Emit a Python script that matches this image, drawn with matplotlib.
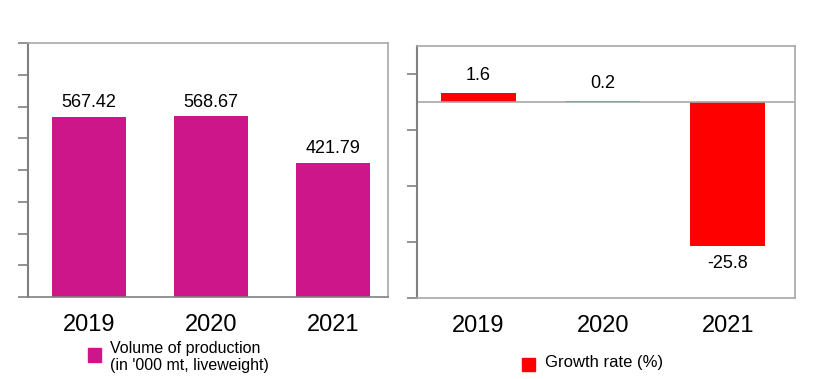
import numpy as np
import matplotlib
matplotlib.use('Agg')
import matplotlib.pyplot as plt
from matplotlib.patches import Rectangle

plt.rcParams['font.family'] = ['Liberation Sans', 'DejaVu Sans']

years = ['2019', '2020', '2021']
volume = [567.42, 568.67, 421.79]
growth = [1.6, 0.2, -25.8]
volume_label = "Volume of production\n(in '000 mt, liveweight)"
growth_label = 'Growth rate (%)'

MAGENTA = '#CC1689'
RED = '#FF0000'
FRAME = '#A8A8A8'
AXIS = '#808080'


def style_frame(ax):
    for side in ['top', 'right', 'bottom']:
        ax.spines[side].set_color(FRAME)
        ax.spines[side].set_linewidth(1.2)
    ax.spines['left'].set_color(AXIS)
    ax.spines['left'].set_linewidth(1.5)
    ax.tick_params(axis='y', direction='out', length=7, width=1.2,
                   color=AXIS, labelleft=False)
    ax.tick_params(axis='x', length=0, labelsize=17, pad=12)


fig = plt.figure(figsize=(8.2, 3.79), dpi=100)
W, H = 820, 379

# left panel: volume
ax1 = fig.add_axes([28 / W, 1 - 297 / H, 360 / W, 254 / H])
x = np.arange(len(years))
ax1.bar(x, volume, 0.61, color=MAGENTA)
ax1.set_xlim(-0.5, 2.45)
ax1.set_ylim(0, 800)
ax1.set_yticks(np.arange(0, 801, 100))
ax1.set_xticks(x)
ax1.set_xticklabels(years)
style_frame(ax1)
ax1.spines['bottom'].set_color(AXIS)
for xi, v in zip(x, volume):
    ax1.text(xi, v + 18, f'{v:.2f}', ha='center', va='bottom', fontsize=13)

# right panel: growth rate
ax2 = fig.add_axes([417 / W, 1 - 298 / H, 378 / W, 252 / H])
ax2.bar(x, growth, 0.6, color=RED)
ax2.axhline(0, color=FRAME, lw=1.2)
ax2.set_xlim(-0.49, 2.54)
ax2.set_ylim(-35, 10)
ax2.set_yticks(np.arange(-35, 6, 10))
ax2.set_xticks(x)
ax2.set_xticklabels(years)
style_frame(ax2)
for xi, v in zip(x, growth):
    if v >= 0:
        ax2.text(xi, v + 1.6, f'{v:.1f}', ha='center', va='bottom', fontsize=13)
    else:
        ax2.text(xi, v - 1.6, f'{v:.1f}', ha='center', va='top', fontsize=13)

# legends
fig.patches.append(Rectangle((88 / W, 1 - 362 / H), 13 / W, 14 / H,
                             transform=fig.transFigure, color=MAGENTA))
fig.text(110 / W, 1 - 357 / H, volume_label, fontsize=11.5,
         va='center', ha='left', linespacing=1.2)
fig.patches.append(Rectangle((522 / W, 1 - 371 / H), 13 / W, 13 / H,
                             transform=fig.transFigure, color=RED))
fig.text(545 / W, 1 - 362 / H, growth_label, fontsize=12,
         va='center', ha='left')

fig.savefig('out.png', dpi=100)
